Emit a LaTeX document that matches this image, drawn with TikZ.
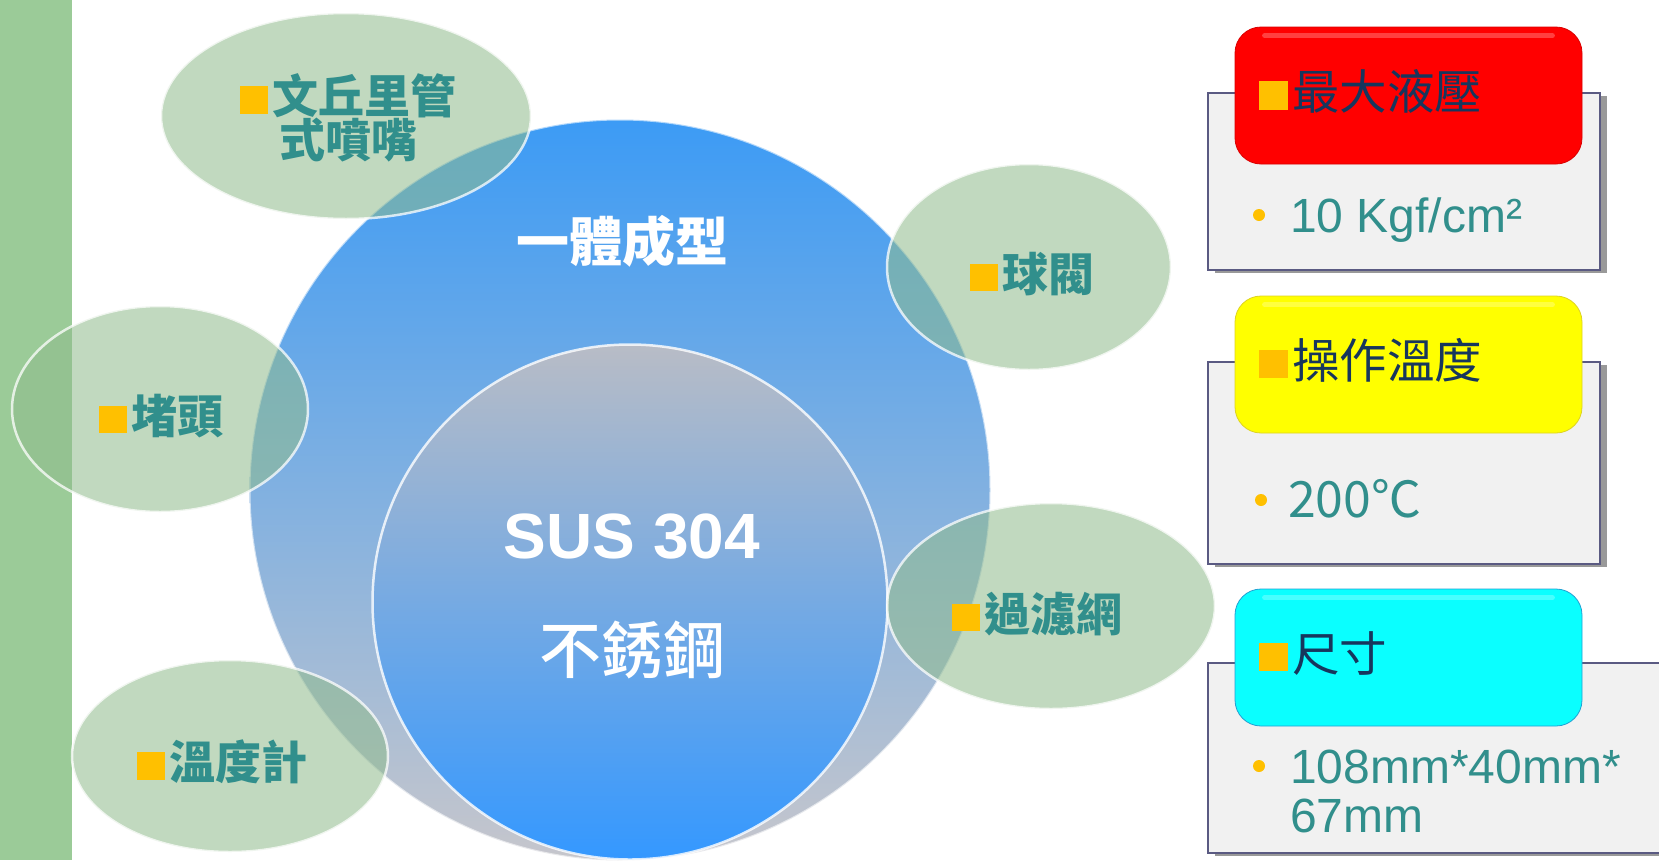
\documentclass[tikz,border=0pt]{standalone}
\usepackage{fontspec}
\setmainfont{Liberation Sans}
\newfontfamily\cjk{Noto Sans CJK TC}
\newfontfamily\cjkm{Noto Sans CJK TC Medium}
\usetikzlibrary{shapes.geometric,shadows,calc}
\definecolor{barc}{RGB}{155,203,152}
\definecolor{ellc}{RGB}{143,187,140}
\definecolor{tealtxt}{RGB}{49,143,140}
\definecolor{sqc}{RGB}{255,192,0}
\definecolor{navytxt}{RGB}{23,54,93}
\definecolor{boxfill}{RGB}{241,241,241}
\definecolor{boxline}{RGB}{90,90,130}
\definecolor{bluetop}{RGB}{60,155,245}
\definecolor{graybot}{RGB}{198,198,204}
\definecolor{innertop}{RGB}{184,188,198}
\definecolor{innermid}{RGB}{95,165,240}
\definecolor{innerbot}{RGB}{52,152,255}
\definecolor{hred}{RGB}{255,0,0}
\definecolor{hyel}{RGB}{255,255,0}
\definecolor{hcyan}{RGB}{10,255,255}
\newcommand{\sqmark}{\textcolor{sqc}{\rule{0.6em}{0.6em}}\kern0.1em}
\begin{document}
\begin{tikzpicture}[x=1pt,y=-1pt,
  bubble/.style={ellipse, inner sep=0pt, fill=ellc, fill opacity=0.55,
    draw=white, draw opacity=0.75, line width=2.5pt},
  bubbletxt/.style={inner sep=0pt, text=tealtxt, align=center,
    font=\cjk\bfseries\fontsize{46}{44}\selectfont},
  infobox/.style={rectangle, inner sep=0pt, fill=boxfill, draw=boxline, line width=1.6pt,
    drop shadow={shadow xshift=7pt, shadow yshift=-3pt, fill=black!50, opacity=0.8}},
  hdr/.style={rectangle, rounded corners=26pt, inner sep=0pt,
    minimum width=347pt, minimum height=137pt},
  hdrtxt/.style={anchor=base west, inner sep=0pt, text=navytxt,
    font=\cjk\fontsize{47.5}{47.5}\selectfont},
  valtxt/.style={anchor=base west, inner sep=0pt, text=tealtxt,
    font=\fontsize{48}{49}\selectfont},
  dotm/.style={circle, fill=sqc, inner sep=0pt, minimum size=12pt},
  gloss/.style={white, opacity=0.25, line width=5pt, line cap=round}
]
\clip (0,0) rectangle (1659,860);
\fill[white] (0,0) rectangle (1659,860);
% left bar
\fill[barc] (0,0) rectangle (72,860);

% central circles
\node[circle, inner sep=0pt, minimum size=741pt, top color=bluetop, bottom color=graybot,
  draw=white, draw opacity=0.6, line width=2pt] (outer) at (620,490) {};
\node[circle, inner sep=0pt, minimum size=515pt, top color=innertop, middle color=innermid,
  bottom color=innerbot, draw=white, draw opacity=0.8, line width=2.5pt] (inner) at (630,602) {};

\node[inner sep=0pt, text=white, font=\cjk\bfseries\fontsize{53}{53}\selectfont] (t1) at (622,241) {一體成型};
\node[inner sep=0pt, text=white, font=\bfseries\fontsize{64}{64}\selectfont] (t2) at (632,537) {SUS 304};
\node[inner sep=0pt, text=white, font=\cjkm\fontsize{62}{62}\selectfont] (t3) at (632,650) {不銹鋼};

% bubbles
\node[bubble, minimum width=370pt, minimum height=206pt] (b1) at (346,116) {};
\node[bubble, minimum width=284pt, minimum height=206pt] (b2) at (1029,267) {};
\node[bubble, minimum width=296pt, minimum height=206pt] (b3) at (160,409) {};
\node[bubble, minimum width=328pt, minimum height=206pt] (b4) at (1051,606) {};
\node[bubble, minimum width=316pt, minimum height=192pt] (b5) at (230,756) {};

\node[bubbletxt] (l1) at (348,118) {\sqmark 文丘里管\\式噴嘴};
\node[bubbletxt] (l2) at (1032,274) {\sqmark 球閥};
\node[bubbletxt] (l3) at (161,416) {\sqmark 堵頭};
\node[bubbletxt] (l4) at (1037,614) {\sqmark 過濾網};
\node[bubbletxt] (l5) at (222,762) {\sqmark 溫度計};

% right info boxes
\node[infobox, minimum width=392pt, minimum height=177pt] (g1) at (1404,181.5) {};
\node[infobox, minimum width=392pt, minimum height=202pt] (g2) at (1404,463) {};
\node[infobox, minimum width=490pt, minimum height=190pt] (g3) at (1453,758) {};

\node[hdr, fill=hred, draw=red!85!black, line width=0.8pt] (h1) at (1408.5,95.5) {};
\node[hdr, fill=hyel, draw=yellow!85!black, line width=0.8pt] (h2) at (1408.5,364.5) {};
\node[hdr, fill=hcyan, draw=cyan!85!black, line width=0.8pt] (h3) at (1408.5,657.5) {};
\draw[gloss] ($(h1.north west)+(30,9)$) -- ($(h1.north east)+(-30,9)$);
\draw[gloss] ($(h2.north west)+(30,9)$) -- ($(h2.north east)+(-30,9)$);
\draw[gloss] ($(h3.north west)+(30,9)$) -- ($(h3.north east)+(-30,9)$);

\node[hdrtxt] (ht1) at (1259,109.5) {\sqmark 最大液壓};
\node[hdrtxt] (ht2) at (1259,378) {\sqmark 操作溫度};
\node[hdrtxt] (ht3) at (1259,671) {\sqmark 尺寸};

\node[dotm] (d1) at (1259,215) {};
\node[dotm] (d2) at (1261,500) {};
\node[dotm] (d3) at (1259,766) {};
\node[valtxt] (v1) at (1290,232) {10 Kgf/cm²};
\node[valtxt, font=\cjk\fontsize{50}{50}\selectfont] (v2) at (1288,517) {200℃};
\node[valtxt, align=left] (v3) at (1290,783) {108mm*40mm*};
\node[valtxt] (v4) at (1290,832) {67mm};
\end{tikzpicture}
\end{document}
